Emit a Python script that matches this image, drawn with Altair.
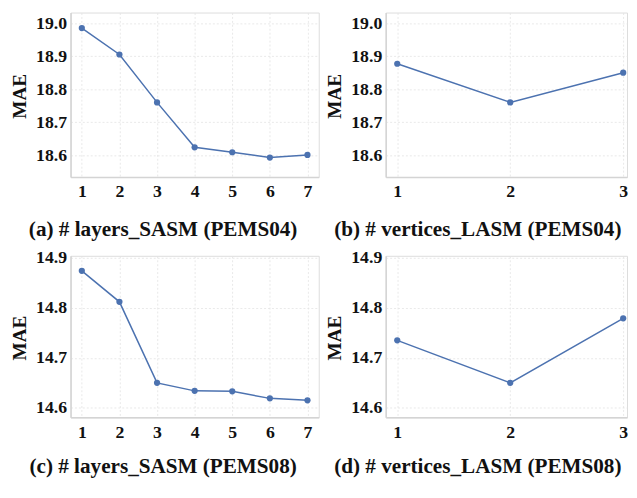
import altair as alt
import pandas as pd

layers = [1, 2, 3, 4, 5, 6, 7]
vertices = [1, 2, 3]
mae_layers_04 = [18.985, 18.905, 18.760, 18.624, 18.609, 18.593, 18.601]
mae_vertices_04 = [18.877, 18.760, 18.850]
mae_layers_08 = [14.874, 14.812, 14.650, 14.634, 14.633, 14.619, 14.615]
mae_vertices_08 = [14.735, 14.650, 14.779]

yticks_04 = [18.6, 18.7, 18.8, 18.9, 19.0]
yticks_08 = [14.6, 14.7, 14.8, 14.9]

captions = [
    "(a) # layers_SASM (PEMS04)",
    "(b) # vertices_LASM (PEMS04)",
    "(c) # layers_SASM (PEMS08)",
    "(d) # vertices_LASM (PEMS08)",
]

FONT = "Liberation Serif"
BLUE = "#4c72b0"


def panel(xs, ys, xdomain, ydomain, yticks, caption, w, h, dx, off):
    df = pd.DataFrame({"x": xs, "y": ys})
    xenc = alt.X(
        "x:Q",
        scale=alt.Scale(domain=xdomain, nice=False, zero=False),
        axis=alt.Axis(values=xs, format="d", title=None),
    )
    yenc = alt.Y(
        "y:Q",
        scale=alt.Scale(domain=ydomain, nice=False, zero=False),
        axis=alt.Axis(
            values=yticks,
            format=".1f",
            title="MAE",
            titleX=-51.5,
            titleY=h / 2 + 1,
            titleAngle=270,
            titleAlign="center",
            titleBaseline="middle",
        ),
    )
    base = alt.Chart(df).encode(x=xenc, y=yenc)
    line = base.mark_line(color=BLUE, strokeWidth=1.5)
    pts = base.mark_circle(color=BLUE, size=40, opacity=1)
    return alt.layer(line, pts).properties(
        width=w,
        height=h,
        title=alt.TitleParams(
            caption,
            orient="bottom",
            anchor="middle",
            frame="group",
            dx=dx,
            offset=off,
            font=FONT,
            fontSize=21.5,
            fontWeight="bold",
            color="#111111",
        ),
    )


WA = 252
WB = 245
a = panel(layers, mae_layers_04, [0.7, 7.3], [18.534, 19.032], yticks_04, captions[0], WA, 167, -32, 19)
b = panel(vertices, mae_vertices_04, [0.898, 3.034], [18.534, 19.032], yticks_04, captions[1], WB, 167, -29, 19)
c = panel(layers, mae_layers_08, [0.7, 7.3], [14.581, 14.904], yticks_08, captions[2], WA, 164, -32, 16)
d = panel(vertices, mae_vertices_08, [0.898, 3.034], [14.581, 14.904], yticks_08, captions[3], WB, 164, -29, 16)

chart = (
    alt.concat(a, b, c, d, columns=2, spacing={"row": 80, "column": 68}, bounds="flush")
    .properties(padding={"left": 1.5, "top": 0, "right": 0, "bottom": -1})
    .configure(font=FONT)
    .configure_view(stroke="#dcdcdc", strokeWidth=1)
    .configure_axis(
        labelFont=FONT,
        labelFontSize=18,
        labelFontWeight="bold",
        labelColor="#111111",
        titleFont=FONT,
        titleFontSize=19.5,
        titleFontWeight="bold",
        titleColor="#111111",
        ticks=False,
        domain=True,
        domainColor="#d4d4d4",
        domainWidth=1.5,
        grid=True,
        gridColor="#e3e3e3",
        gridDash=[2, 2],
        gridWidth=0.8,
        labelPadding=4,
    )
    .configure_axisX(labelPadding=6)
)

chart.save("out.html", embed_options={"renderer": "svg", "actions": False})
